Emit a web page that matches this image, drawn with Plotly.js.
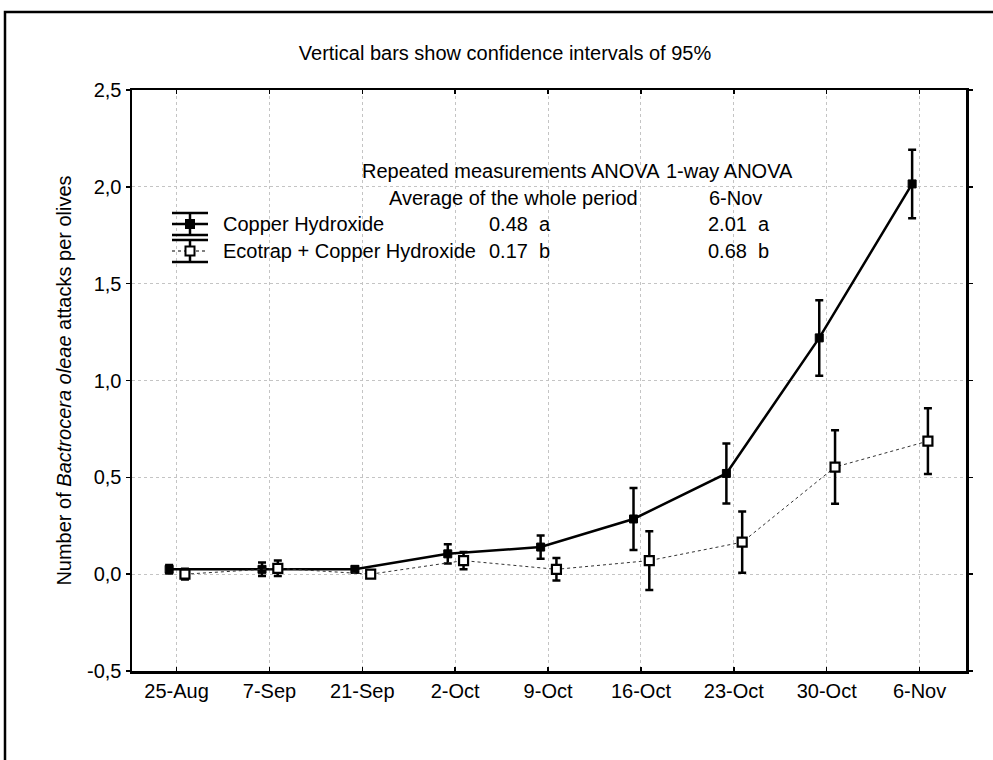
<!DOCTYPE html>
<html>
<head>
<meta charset="utf-8">
<script src="https://cdn.plot.ly/plotly-3.0.1.min.js"></script>
<style>html,body{margin:0;padding:0;background:#fff;}#chart{width:993px;height:760px;}</style>
</head>
<body>
<div id="chart"></div>
<script>
// ---- data ----
const categories = ['25-Aug', '7-Sep', '21-Sep', '2-Oct', '9-Oct', '16-Oct', '23-Oct', '30-Oct', '6-Nov'];
const copperMean = [0.025, 0.025, 0.025, 0.105, 0.14, 0.285, 0.52, 1.22, 2.015];
const copperCI   = [0.022, 0.035, 0.015, 0.05, 0.06, 0.16, 0.155, 0.195, 0.177];
const ecoMean    = [0.0, 0.03, 0.0, 0.07, 0.025, 0.07, 0.165, 0.553, 0.687];
const ecoCI      = [0.028, 0.04, 0.01, 0.045, 0.058, 0.152, 0.158, 0.19, 0.17];
const yTicks     = [-0.5, 0, 0.5, 1, 1.5, 2, 2.5];
const yTickText  = ['-0,5', '0,0', '0,5', '1,0', '1,5', '2,0', '2,5'];
const seriesNames = ['Copper Hydroxide', 'Ecotrap + Copper Hydroxide'];
const headerRow1 = ['Repeated measurements ANOVA', '1-way ANOVA'];
const headerRow2 = ['Average of the whole period', '6-Nov'];
const copperStats = ['0.48  a', '2.01  a'];
const ecoStats    = ['0.17  b', '0.68  b'];

// ---- geometry helpers (pixel -> paper) ----
const W = 993, H = 760;
const L = 132, R = 966, T = 90, B = 671;
const px = x => (x - L) / (R - L);
const py = y => (B - y) / (B - T);
const FONT = 'Arial, "Liberation Sans", sans-serif';

const idx = categories.map((_, i) => i);

const traces = [
  {
    x: idx.map(i => i - 0.08), y: copperMean, name: seriesNames[0],
    type: 'scatter', mode: 'lines+markers',
    line: {color: '#000', width: 2.5},
    marker: {symbol: 'square', size: 8, color: '#000', line: {color: '#000', width: 1}},
    error_y: {type: 'data', array: copperCI, visible: true, color: '#000', thickness: 2.5, width: 4},
    showlegend: false
  },
  {
    x: idx.map(i => i + 0.09), y: ecoMean, name: seriesNames[1],
    type: 'scatter', mode: 'lines+markers',
    line: {color: '#333', width: 1, dash: 'dot'},
    marker: {symbol: 'square', size: 9, color: '#fff', line: {color: '#000', width: 2.2}},
    error_y: {type: 'data', array: ecoCI, visible: true, color: '#000', thickness: 2.5, width: 4},
    showlegend: false
  }
];

const txt = (s, x, y, anchor) => ({
  text: s, xref: 'paper', yref: 'paper', x: px(x), y: py(y),
  xanchor: anchor || 'left', yanchor: 'middle', showarrow: false,
  font: {family: FONT, size: 20, color: '#000'}
});

const annotations = [
  txt(headerRow1[0], 360, 171),
  txt(headerRow1[1], 664, 171),
  txt(headerRow2[0], 387, 198),
  txt(headerRow2[1], 735, 198, 'center'),
  txt(seriesNames[0], 221, 224),
  txt(copperStats[0], 487, 224),
  txt(copperStats[1], 706, 224),
  txt(seriesNames[1], 221, 251),
  txt(ecoStats[0], 487, 251),
  txt(ecoStats[1], 706, 251)
];

const ln = (x0, y0, x1, y1, w, dash) => ({
  type: 'line', xref: 'paper', yref: 'paper',
  x0: px(x0), y0: py(y0), x1: px(x1), y1: py(y1),
  line: {color: '#000', width: w, dash: dash || 'solid'}
});
const sq = (cx, cy, s, fill) => ({
  type: 'rect', xref: 'paper', yref: 'paper',
  x0: px(cx - s / 2), x1: px(cx + s / 2), y0: py(cy + s / 2), y1: py(cy - s / 2),
  fillcolor: fill, line: {color: '#000', width: 2}
});

const shapes = [
  // outer frame
  {type: 'rect', xref: 'paper', yref: 'paper', x0: px(5), y0: py(780), x1: px(1010), y1: py(12),
   line: {color: '#000', width: 2.5}, fillcolor: 'rgba(0,0,0,0)', layer: 'below'},
  // legend symbol row 1
  ln(190, 213, 190, 235, 2.5), ln(172, 213, 208, 213, 2.5), ln(172, 235, 208, 235, 2.5),
  ln(172, 224, 208, 224, 2.5), sq(190, 224, 8, '#000'),
  // legend symbol row 2
  ln(190, 240, 190, 262, 2.5), ln(172, 240, 208, 240, 2.5), ln(172, 262, 208, 262, 2.5),
  ln(172, 251, 208, 251, 1, 'dot'), sq(190, 251, 9, '#fff')
];

const layout = {
  width: W, height: H,
  margin: {l: L, r: W - R, t: T, b: H - B, pad: 0},
  paper_bgcolor: '#fff', plot_bgcolor: '#fff',
  font: {family: FONT, size: 20, color: '#000'},
  title: {text: 'Vertical bars show confidence intervals of 95%', x: 505 / W, xanchor: 'center',
          y: 1 - 53 / H, yanchor: 'middle', font: {family: FONT, size: 20, color: '#000'}},
  xaxis: {
    range: [-0.48, 8.5], tickvals: idx, ticktext: categories,
    showgrid: true, gridcolor: '#c4c4c4', griddash: 'dot', gridwidth: 1,
    zeroline: false, showline: true, linecolor: '#000', linewidth: 2.5, mirror: 'ticks',
    ticks: 'inside', ticklen: 4, tickwidth: 1.5, tickcolor: '#000',
    tickfont: {family: FONT, size: 20, color: '#000'}, fixedrange: true
  },
  yaxis: {
    range: [-0.5, 2.5], tickvals: yTicks, ticktext: yTickText,
    showgrid: true, gridcolor: '#c4c4c4', griddash: 'dot', gridwidth: 1,
    zeroline: false, showline: true, linecolor: '#000', linewidth: 2.5, mirror: 'ticks',
    ticks: 'outside', ticklen: 4, tickwidth: 1.5, tickcolor: '#000',
    tickfont: {family: FONT, size: 20, color: '#000'},
    title: {text: 'Number of <i>Bactrocera oleae</i> attacks per olives', standoff: 10,
            font: {family: FONT, size: 20, color: '#000'}},
    automargin: false, fixedrange: true
  },
  annotations: annotations,
  shapes: shapes,
  showlegend: false
};

Plotly.newPlot('chart', traces, layout, {displayModeBar: false, staticPlot: true});
</script>
</body>
</html>
